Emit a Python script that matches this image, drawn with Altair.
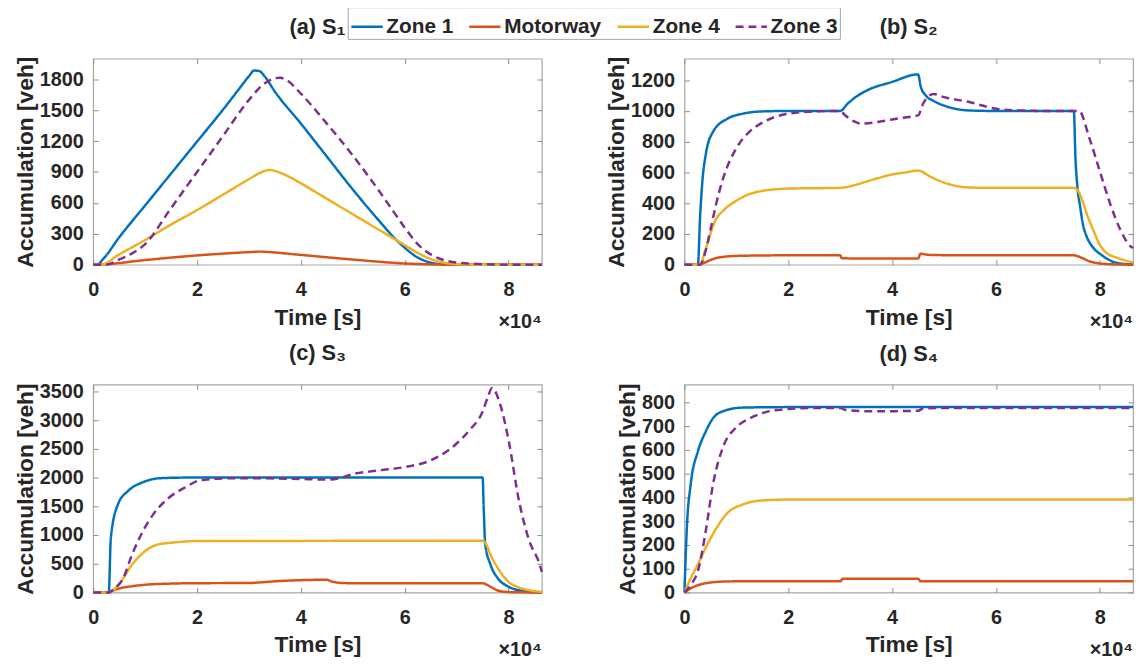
import altair as alt
import pandas as pd

SERIES = ["Zone 1", "Motorway", "Zone 4", "Zone 3"]
COLORS = ["#0072BD", "#D95319", "#EDB120", "#7E2F8E"]
DASHES = [[1, 0], [1, 0], [1, 0], [8, 5]]
X_TICKS = [0, 20000, 40000, 60000, 80000]
X_MAX = 86400
SCALE_NOTE = "×10⁴"

# ---------------- (a) S1 ----------------
a_zone1_t = [0, 700, 2000, 5000, 10000, 15000, 20000, 25000, 28000, 30000, 31000, 32000, 33000, 35000, 40000, 45000, 50000, 55000, 58000, 60000, 62000, 64000, 66000, 68000, 70000, 86400]
a_zone1_v = [0, 0, 60, 265, 575, 885, 1195, 1505, 1700, 1830, 1885, 1880, 1830, 1680, 1370, 1050, 730, 430, 260, 165, 85, 35, 10, 2, 0, 0]
a_motor_t = [0, 2000, 10000, 20000, 30000, 32000, 34000, 40000, 50000, 60000, 65000, 70000, 86400]
a_motor_v = [0, 3, 45, 90, 122, 127, 122, 95, 50, 12, 3, 0, 0]
a_zone4_t = [0, 1500, 5000, 10000, 15000, 20000, 25000, 30000, 32500, 34000, 35000, 37500, 40000, 45000, 50000, 55000, 60000, 62500, 65000, 67500, 70000, 75000, 86400]
a_zone4_v = [0, 0, 100, 240, 390, 530, 680, 830, 900, 920, 910, 860, 790, 640, 490, 340, 190, 115, 55, 20, 5, 0, 0]
a_zone3_t = [0, 2500, 5000, 7500, 10000, 15000, 20000, 25000, 30000, 33000, 35000, 36000, 37000, 40000, 45000, 50000, 55000, 57500, 60000, 62500, 65000, 67500, 70000, 75000, 80000, 86400]
a_zone3_v = [0, 0, 50, 110, 200, 550, 900, 1250, 1600, 1760, 1810, 1815, 1800, 1660, 1370, 1060, 720, 540, 360, 200, 100, 45, 20, 5, 0, 0]
a_yticks = [0, 300, 600, 900, 1200, 1500, 1800]
a_ymax = 2000

# ---------------- (b) S2 ----------------
b_zone1_t = [0, 2600, 3000, 3500, 4100, 5500, 8300, 11200, 15000, 20000, 30000, 30500, 31100, 32500, 35000, 40000, 45000, 45500, 46500, 48000, 50000, 52500, 55000, 60000, 75000, 75300, 75700, 76200, 76700, 77500, 78100, 79000, 80300, 82400, 84000, 86400]
b_zone1_v = [0, 0, 300, 560, 715, 864, 950, 982, 997, 1000, 1000, 1010, 1035, 1078, 1131, 1189, 1238, 1160, 1100, 1065, 1035, 1012, 1003, 1000, 1000, 700, 500, 380, 270, 180, 140, 100, 64, 21, 8, 2]
b_motor_t = [0, 2800, 4000, 5000, 6000, 8000, 10000, 15000, 20000, 30000, 30300, 35000, 40000, 45000, 45500, 46500, 48000, 50000, 60000, 75000, 76500, 78000, 80000, 82000, 86400]
b_motor_v = [0, 0, 15, 30, 42, 53, 57, 60, 61, 61, 42, 40, 40, 41, 72, 66, 63, 62, 61, 61, 45, 22, 8, 3, 0]
b_zone4_t = [0, 3000, 4000, 5000, 6000, 7500, 10000, 12500, 15000, 20000, 30000, 32500, 35000, 37500, 40000, 42500, 45000, 47500, 50000, 55000, 60000, 75000, 76000, 76700, 77500, 78800, 80000, 81000, 83800, 86000, 86400]
b_zone4_v = [0, 0, 90, 200, 290, 352, 416, 459, 480, 495, 500, 515, 540, 565, 587, 600, 612, 570, 534, 502, 500, 500, 470, 410, 330, 220, 130, 85, 40, 18, 15]
b_zone3_t = [0, 3000, 4000, 5000, 6000, 7500, 10000, 12500, 15000, 20000, 25000, 30000, 31000, 32500, 34000, 37500, 40000, 42500, 45000, 46000, 47000, 48000, 50000, 55000, 60000, 65000, 70000, 76000, 78000, 80000, 82000, 84000, 86000, 86400]
b_zone3_v = [0, 0, 80, 224, 380, 566, 758, 864, 924, 982, 997, 1000, 970, 935, 918, 930, 945, 958, 971, 1050, 1095, 1110, 1090, 1057, 1014, 1003, 1000, 1000, 822, 608, 395, 224, 117, 110]
b_yticks = [0, 200, 400, 600, 800, 1000, 1200]
b_ymax = 1340

# ---------------- (c) S3 ----------------
c_zone1_t = [0, 3000, 3400, 4800, 6800, 9600, 13000, 17800, 75000, 75200, 75500, 76500, 77900, 79900, 82600, 86400]
c_zone1_v = [0, 0, 954, 1540, 1774, 1920, 1990, 2000, 2000, 1500, 840, 490, 250, 105, 30, 0]
c_motor_t = [0, 2800, 4000, 5000, 7500, 10000, 15000, 20000, 30000, 32000, 35000, 40000, 45000, 46000, 48000, 50000, 75000, 76500, 77500, 79000, 81000, 86400]
c_motor_v = [0, 0, 40, 70, 110, 135, 155, 162, 165, 175, 195, 215, 222, 190, 165, 162, 162, 100, 50, 15, 5, 0]
c_zone4_t = [0, 3000, 5000, 7500, 10000, 12500, 15000, 20000, 75000, 75700, 76500, 77900, 79900, 82000, 84700, 86400]
c_zone4_v = [0, 0, 150, 486, 720, 837, 866, 896, 900, 837, 662, 428, 193, 88, 29, 12]
c_zone3_t = [0, 3000, 4000, 5800, 7500, 9600, 11600, 14300, 17800, 20500, 25000, 30000, 35000, 40000, 45000, 47500, 50000, 55000, 60000, 65000, 70000, 72500, 75000, 76000, 76800, 78500, 80000, 82000, 84000, 86000, 86400]
c_zone3_v = [0, 0, 60, 252, 662, 1071, 1364, 1628, 1833, 1950, 1985, 1990, 1985, 1975, 1965, 1990, 2060, 2125, 2184, 2300, 2593, 2828, 3150, 3400, 3560, 3238, 2652, 1598, 896, 486, 360]
c_yticks = [0, 500, 1000, 1500, 2000, 2500, 3000, 3500]
c_ymax = 3620

# ---------------- (d) S4 ----------------
d_zone1_t = [0, 500, 1200, 2600, 4100, 5500, 7600, 11200, 20000, 86400]
d_zone1_v = [0, 286, 454, 594, 677, 733, 764, 778, 780, 780]
d_motor_t = [0, 1000, 2500, 5000, 7500, 10000, 30000, 30500, 45000, 45500, 86400]
d_motor_v = [0, 15, 30, 42, 46, 47, 47, 58, 58, 47, 47]
d_zone4_t = [0, 1000, 2600, 4100, 6200, 8300, 11200, 14700, 20000, 86400]
d_zone4_v = [0, 50, 119, 189, 272, 335, 370, 387, 391, 391]
d_zone3_t = [0, 1500, 2600, 4100, 5500, 7600, 9800, 12600, 15500, 20000, 25000, 30000, 31000, 35000, 40000, 45000, 46000, 50000, 86400]
d_zone3_v = [0, 40, 91, 258, 454, 621, 691, 733, 758, 772, 776, 776, 768, 763, 763, 765, 774, 776, 776]
d_yticks = [0, 100, 200, 300, 400, 500, 600, 700, 800]
d_ymax = 875

FONT = "Liberation Sans"
TXT = "#262626"
W = 453


def frame(pairs):
    rows = []
    for name, (ts, vs) in zip(SERIES, pairs):
        for t, v in zip(ts, vs):
            rows.append({"series": name, "t": t, "v": v})
    return pd.DataFrame(rows)


legend_cfg = alt.Legend(
    orient="none", legendX=257, legendY=-52, direction="horizontal", title=None,
    symbolType="stroke", symbolSize=1000, symbolStrokeWidth=2.5,
    labelFont=FONT, labelFontSize=21, labelFontWeight="bold", labelColor=TXT,
    labelOffset=2, columnPadding=10, padding=2, strokeColor="#a6a6a6",
    fillColor="white", labelLimit=0,
)


def panel(pairs, title, ymax, yticks, height):
    df = frame(pairs)
    xscale = alt.Scale(domain=[0, X_MAX], nice=False, zero=False)
    yscale = alt.Scale(domain=[0, ymax], nice=False)
    lines = alt.Chart(df).mark_line(strokeWidth=2.5, interpolate="monotone").encode(
        x=alt.X("t:Q", scale=xscale,
                axis=alt.Axis(values=X_TICKS, labelExpr="format(datum.value / 10000, 'd')",
                              title="Time [s]")),
        y=alt.Y("v:Q", scale=yscale,
                axis=alt.Axis(values=yticks, format="d", title="Accumulation [veh]")),
        color=alt.Color("series:N", scale=alt.Scale(domain=SERIES, range=COLORS), legend=legend_cfg),
        strokeDash=alt.StrokeDash("series:N", scale=alt.Scale(domain=SERIES, range=DASHES), legend=legend_cfg),
    )
    box_ticks = alt.Chart(pd.DataFrame({"t": [0], "v": [0]})).mark_point(opacity=0).encode(
        x=alt.X("t:Q", scale=xscale, axis=alt.Axis(orient="top", values=X_TICKS, labels=False, title=None)),
        y=alt.Y("v:Q", scale=yscale, axis=alt.Axis(orient="right", values=yticks, labels=False, title=None)),
    )
    note = alt.Chart(pd.DataFrame({"note": [SCALE_NOTE]})).mark_text(
        align="right", baseline="middle", font=FONT, fontSize=20, fontWeight="bold", color=TXT
    ).encode(text="note:N", x=alt.value(W), y=alt.value(height + 58))
    return alt.layer(lines, box_ticks, note).resolve_axis(x="independent", y="independent").properties(
        width=W, height=height,
        title=alt.TitleParams(text=title, font=FONT, fontSize=22, fontWeight="bold", color=TXT,
                              baseline="alphabetic", offset=0),
    )


pa = panel([(a_zone1_t, a_zone1_v), (a_motor_t, a_motor_v), (a_zone4_t, a_zone4_v), (a_zone3_t, a_zone3_v)], "(a) S₁", a_ymax, a_yticks, 208)
pb = panel([(b_zone1_t, b_zone1_v), (b_motor_t, b_motor_v), (b_zone4_t, b_zone4_v), (b_zone3_t, b_zone3_v)], "(b) S₂", b_ymax, b_yticks, 208)
pc = panel([(c_zone1_t, c_zone1_v), (c_motor_t, c_motor_v), (c_zone4_t, c_zone4_v), (c_zone3_t, c_zone3_v)], "(c) S₃", c_ymax, c_yticks, 210)
pd_ = panel([(d_zone1_t, d_zone1_v), (d_motor_t, d_motor_v), (d_zone4_t, d_zone4_v), (d_zone3_t, d_zone3_v)], "(d) S₄", d_ymax, d_yticks, 210)

chart = alt.concat(
    pa, pb, pc, pd_, columns=2, spacing={"row": 121, "column": 144}, bounds="flush"
).properties(
    padding={"left": 5, "top": -5, "right": 0, "bottom": 0},
    background="white",
).configure_axis(
    labelFont=FONT, labelFontSize=20, labelFontWeight="bold", labelColor=TXT,
    titleFont=FONT, titleFontSize=23, titleFontWeight="bold", titleColor=TXT,
    domain=False, grid=False, ticks=True, tickColor="#8c8c8c", tickWidth=1,
    tickSize={"expr": "-5"}, labelFlush=False, labelOverlap=False,
).configure_axisX(
    labelPadding=20, titlePadding=7,
).configure_axisY(
    labelPadding=15, titlePadding=2,
).configure_view(
    stroke="#a6a6a6", strokeWidth=1.2,
)

chart.save("out.html", embed_options={"renderer": "svg", "actions": False})
